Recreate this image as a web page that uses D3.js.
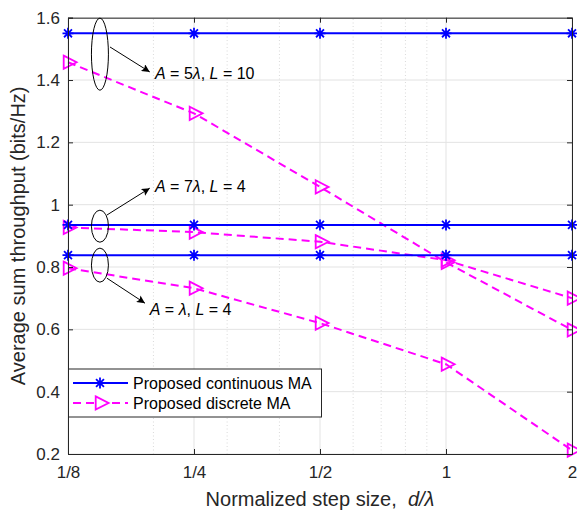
<!DOCTYPE html>
<html><head><meta charset="utf-8">
<script src="https://cdn.jsdelivr.net/npm/d3@7"></script>
<style>body{margin:0;background:#fff}svg{display:block}text{font-family:"Liberation Sans",Arial,Helvetica,sans-serif}</style>
</head><body><svg id="chart" width="577" height="513"></svg>
<script>
// ---------- data ----------
const stepSizes = [1/8, 1/4, 1/2, 1, 2];
const xTickLabels = ["1/8", "1/4", "1/2", "1", "2"];
const xMinorTicks = [0.2, 0.3, 0.4, 0.6, 0.7, 0.8, 0.9];
const yTicks = [0.2, 0.4, 0.6, 0.8, 1.0, 1.2, 1.4, 1.6];
const yTickLabels = ["0.2", "0.4", "0.6", "0.8", "1", "1.2", "1.4", "1.6"];

const contA5L10 = [1.55, 1.55, 1.55, 1.55, 1.55];
const discA5L10 = [1.457, 1.293, 1.057, 0.815, 0.598];
const contA7L4  = [0.935, 0.935, 0.935, 0.935, 0.935];
const discA7L4  = [0.927, 0.912, 0.881, 0.822, 0.700];
const contA1L4  = [0.838, 0.838, 0.838, 0.838, 0.838];
const discA1L4  = [0.796, 0.732, 0.620, 0.488, 0.212];

const seriesNames = ["Proposed continuous MA", "Proposed discrete MA"];

// annotations (data coordinates)
const annotations = [
  {label: ["A", " = 5", "λ", ", ", "L", " = 10"], ex: 0.149, ey: 1.483, ery: 0.1156, ax0: 0.1575, ay0: 1.506, ax1: 0.196, ay1: 1.426, tx: 0.2017, ty: 1.403},
  {label: ["A", " = 7", "λ", ", ", "L", " = 4"],  ex: 0.149, ey: 0.931, ery: 0.0514, ax0: 0.1549, ay0: 0.967, ax1: 0.196, ay1: 1.053, tx: 0.2017, ty: 1.041},
  {label: ["A", " = ", "λ", ", ", "L", " = 4"],   ex: 0.149, ey: 0.806, ery: 0.0546, ax0: 0.1549, ay0: 0.764, ax1: 0.1909, ay1: 0.684, tx: 0.196, ty: 0.646}
];

// ---------- layout ----------
const W = 577, H = 513;
const m = {left: 68, right: 5, top: 17.7, bottom: 59};
const svg = d3.select("#chart");
const x = d3.scaleLog().base(2).domain([1/8, 2]).range([m.left, W - m.right]);
const y = d3.scaleLinear().domain([0.2, 1.6]).range([H - m.bottom, m.top]);
const [x0, x1] = x.range(), [y0, y1] = y.range();

const axisCol = "#262626", gridCol = "#e3e3e3";
const blue = "#0000ff", mag = "#ff00ff";

// grid
const g = svg.append("g");
g.selectAll(".minor").data(xMinorTicks).join("line")
  .attr("x1", d => x(d)).attr("x2", d => x(d)).attr("y1", y0).attr("y2", y1)
  .attr("stroke", "#cfcfcf").attr("stroke-width", 0.8).attr("stroke-dasharray", "1,2.5");
g.selectAll(".vx").data(stepSizes).join("line")
  .attr("x1", d => x(d)).attr("x2", d => x(d)).attr("y1", y0).attr("y2", y1)
  .attr("stroke", gridCol).attr("stroke-width", 1);
g.selectAll(".hy").data(yTicks).join("line")
  .attr("x1", x0).attr("x2", x1).attr("y1", d => y(d)).attr("y2", d => y(d))
  .attr("stroke", gridCol).attr("stroke-width", 1);

// axes with d3 axis (inward ticks)
const xAxis = d3.axisBottom(x).tickValues(stepSizes).tickFormat((d, i) => xTickLabels[i]).tickSize(-5).tickPadding(12);
const yAxis = d3.axisLeft(y).tickValues(yTicks).tickFormat((d, i) => yTickLabels[i]).tickSize(-5).tickPadding(8);
const xAxisTop = d3.axisTop(x).tickValues(stepSizes).tickFormat("").tickSize(-5);
const yAxisRight = d3.axisRight(y).tickValues(yTicks).tickFormat("").tickSize(-5);

function styleAxis(sel) {
  sel.selectAll("path").attr("stroke", axisCol).attr("stroke-width", 1);
  sel.selectAll("line").attr("stroke", axisCol).attr("stroke-width", 1);
  sel.selectAll("text").attr("fill", axisCol).style("font-size", "17px").style("font-family", '"Liberation Sans",Arial,sans-serif');
}

// lines
const line = d3.line().x((d, i) => x(stepSizes[i])).y(d => y(d));
const plot = svg.append("g");

const asterisk = r => `M0,${-r}L0,${r}M${-r},0L${r},0M${-r*0.72},${-r*0.72}L${r*0.72},${r*0.72}M${-r*0.72},${r*0.72}L${r*0.72},${-r*0.72}`;
const triR = "M-4.3,-6.6L8.6,0L-4.3,6.6Z";

function drawCont(vals) {
  plot.append("path").datum(vals).attr("d", line).attr("fill", "none").attr("stroke", blue).attr("stroke-width", 2);
  plot.selectAll(null).data(vals).join("path")
    .attr("transform", (d, i) => `translate(${x(stepSizes[i])},${y(d)})`)
    .attr("d", asterisk(5.5)).attr("stroke", blue).attr("stroke-width", 1.8).attr("fill", "none");
}
function drawDisc(vals) {
  plot.append("path").datum(vals).attr("d", line).attr("fill", "none").attr("stroke", mag).attr("stroke-width", 2).attr("stroke-dasharray", "8,5");
  plot.selectAll(null).data(vals).join("path")
    .attr("transform", (d, i) => `translate(${x(stepSizes[i])},${y(d)})`)
    .attr("d", triR).attr("stroke", mag).attr("stroke-width", 1.8).attr("fill", "none");
}
drawDisc(discA1L4); drawDisc(discA7L4); drawDisc(discA5L10);
drawCont(contA1L4); drawCont(contA7L4); drawCont(contA5L10);

// axis box
svg.append("g").attr("transform", `translate(0,${y0})`).call(xAxis).call(styleAxis);
svg.append("g").attr("transform", `translate(${x0},0)`).call(yAxis).call(styleAxis);
svg.append("g").attr("transform", `translate(0,${y1})`).call(xAxisTop).call(styleAxis);
svg.append("g").attr("transform", `translate(${x1},0)`).call(yAxisRight).call(styleAxis);

// axis labels
svg.append("text").attr("x", (x0 + x1) / 2).attr("y", 506).attr("text-anchor", "middle")
  .style("font-size", "20px").attr("fill", axisCol)
  .call(t => { t.append("tspan").attr("xml:space", "preserve").text("Normalized step size,  "); t.append("tspan").style("font-style", "italic").text("d/λ"); });
svg.append("text").attr("transform", `translate(25,${(y0 + y1) / 2}) rotate(-90)`).attr("text-anchor", "middle")
  .style("font-size", "20px").attr("fill", axisCol).text("Average sum throughput (bits/Hz)");

// annotations
const defs = svg.append("defs");
defs.append("marker").attr("id", "ah").attr("viewBox", "0 0 10 10").attr("refX", 10).attr("refY", 5)
  .attr("markerWidth", 10).attr("markerHeight", 8).attr("markerUnits", "userSpaceOnUse").attr("orient", "auto")
  .append("path").attr("d", "M0,0L10,5L0,10L2,5Z").attr("fill", "#000");
const ann = svg.append("g");
annotations.forEach(a => {
  ann.append("ellipse").attr("cx", x(a.ex)).attr("cy", y(a.ey)).attr("rx", 8.5).attr("ry", y(a.ey - a.ery) - y(a.ey))
    .attr("fill", "none").attr("stroke", "#000").attr("stroke-width", 1);
  ann.append("line").attr("x1", x(a.ax0)).attr("y1", y(a.ay0)).attr("x2", x(a.ax1)).attr("y2", y(a.ay1))
    .attr("stroke", "#000").attr("stroke-width", 1).attr("marker-end", "url(#ah)");
  const t = ann.append("text").attr("x", x(a.tx)).attr("y", y(a.ty)).style("font-size", "16px").attr("fill", "#000");
  a.label.forEach((s, i) => t.append("tspan").style("font-style", (i === 0 || i === 2 || i === 4) ? "italic" : "normal").attr("xml:space", "preserve").text(s));
});

// legend
const lg = svg.append("g").attr("transform", `translate(${x0},369)`);
lg.append("rect").attr("x", 0.5).attr("y", 0).attr("width", 253).attr("height", 48).attr("fill", "#fff").attr("stroke", axisCol).attr("stroke-width", 1);
seriesNames.forEach((name, i) => {
  const yy = 14 + i * 20;
  lg.append("line").attr("x1", 5).attr("x2", 60).attr("y1", yy).attr("y2", yy)
    .attr("stroke", i ? mag : blue).attr("stroke-width", 2).attr("stroke-dasharray", i ? "8,5" : null);
  lg.append("path").attr("transform", `translate(32,${yy})`).attr("d", i ? triR : asterisk(5.5))
    .attr("stroke", i ? mag : blue).attr("stroke-width", 1.8).attr("fill", i ? "#fff" : "none");
  lg.append("text").attr("x", 65).attr("y", yy + 6).style("font-size", "16px").attr("fill", "#000").text(name);
});
</script></body></html>
